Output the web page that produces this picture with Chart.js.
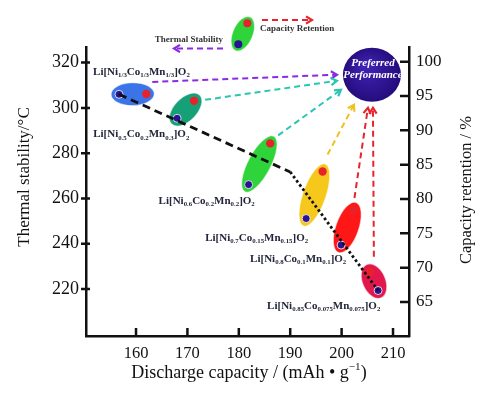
<!DOCTYPE html>
<html lang="en">
<head>
  <meta charset="UTF-8" />
  <title>Thermal stability vs capacity retention</title>
  <script src="https://cdn.jsdelivr.net/npm/chart.js"></script>
  <style>
    html, body { margin: 0; padding: 0; background: #fff; }
  </style>
</head>
<body>
  <canvas id="chart" width="490" height="399"></canvas>

  <script>
    // materials (formula with _{sub})
    const materials = [
      'Li[Ni_{1/3}Co_{1/3}Mn_{1/3}]O_{2}',
      'Li[Ni_{0.5}Co_{0.2}Mn_{0.3}]O_{2}',
      'Li[Ni_{0.6}Co_{0.2}Mn_{0.2}]O_{2}',
      'Li[Ni_{0.7}Co_{0.15}Mn_{0.15}]O_{2}',
      'Li[Ni_{0.8}Co_{0.1}Mn_{0.1}]O_{2}',
      'Li[Ni_{0.85}Co_{0.075}Mn_{0.075}]O_{2}'
    ];
    // discharge capacity where each dot sits (mAh/g)
    const capacityThermal = [156.7, 168.0, 181.9, 193.1, 199.9, 207.1];
    const capacityRetention = [162.0, 171.3, 186.1, 196.3, 202.3, 205.5];
    // thermal stability (°C) and capacity retention (%)
    const thermalStability = [306.0, 295.4, 266.1, 251.1, 239.4, 219.3];
    const retention = [95.3, 94.3, 88.1, 84.0, 78.4, 69.4];
    // trend line through thermal stability
    const trendX = [156.7, 190.0, 207.1];
    const trendY = [306.0, 271.7, 219.3];
    // axis ticks
    const xTicks = [160, 170, 180, 190, 200, 210];
    const thermalTicks = [220, 240, 260, 280, 300, 320];
    const retentionTicks = [65, 70, 75, 80, 85, 90, 95, 100];
    // "preferred performance" target (capacity, retention)
    const preferred = { x: 205.9, y: 98.1 };

    const SERIF = "'Liberation Serif', 'Times New Roman', serif";
    const ellipseColors = ['#3b74e8', '#16a078', '#2fd33a', '#f7c81c', '#ff1616', '#e2174c'];
    const arrowColors = ['#8a2be2', '#28c8b0', '#2cc4b4', '#f0c020', '#e8242c', '#e8242c'];
    // arrow start offset from red dot, arrow tip offset from target centre (px)
    const arrowLayout = [
      [6, -12, -35, 0], [11, -1, -35, 6], [8, -8, -31, 15],
      [5, -17, -18, 30], [1, -12, -4, 33], [4, -15, 1, 33]
    ];
    // label baseline offset from blue dot (px)
    const labelLayout = [[-26, -19.5], [-84, 19], [-90, 19], [-101, 22], [-91, 17], [-111, 18]];

    function richText(ctx, str, x, y, size, weight, measureOnly) {
      const parts = str.split(/([_^]\{[^}]*\})/).filter(Boolean);
      let w = 0;
      for (const p of parts) {
        let t = p, s = size, dy = 0;
        if (p[0] === '_' || p[0] === '^') {
          t = p.slice(2, -1);
          s = size * 0.62;
          dy = p[0] === '_' ? size * 0.22 : -size * 0.42;
        }
        ctx.font = `${weight} ${s}px ${SERIF}`;
        if (!measureOnly) ctx.fillText(t, x + w, y + dy);
        w += ctx.measureText(t).width;
      }
      return w;
    }

    function dashedArrow(ctx, x1, y1, x2, y2, color) {
      const a = Math.atan2(y2 - y1, x2 - x1);
      ctx.save();
      ctx.strokeStyle = color;
      ctx.lineWidth = 2;
      ctx.setLineDash([6, 4]);
      ctx.beginPath();
      ctx.moveTo(x1, y1);
      ctx.lineTo(x2 - 2 * Math.cos(a), y2 - 2 * Math.sin(a));
      ctx.stroke();
      ctx.setLineDash([]);
      ctx.lineWidth = 2.2;
      ctx.beginPath();
      ctx.moveTo(x2 - 7 * Math.cos(a - 0.55), y2 - 7 * Math.sin(a - 0.55));
      ctx.lineTo(x2, y2);
      ctx.lineTo(x2 - 7 * Math.cos(a + 0.55), y2 - 7 * Math.sin(a + 0.55));
      ctx.stroke();
      ctx.restore();
    }

    function pill(ctx, b, r, color, pad, ry) {
      const cx = (b[0] + r[0]) / 2, cy = (b[1] + r[1]) / 2;
      const ang = Math.atan2(r[1] - b[1], r[0] - b[0]);
      const rx = Math.hypot(r[0] - b[0], r[1] - b[1]) / 2 + pad;
      ctx.save();
      ctx.beginPath();
      ctx.ellipse(cx, cy, rx, ry, ang, 0, Math.PI * 2);
      ctx.fillStyle = color;
      ctx.fill();
      ctx.strokeStyle = 'rgba(255,255,255,0.55)';
      ctx.lineWidth = 1.2;
      ctx.stroke();
      ctx.restore();
    }

    function dot(ctx, x, y, color) {
      ctx.beginPath();
      ctx.arc(x, y, 4, 0, Math.PI * 2);
      ctx.fillStyle = color;
      ctx.fill();
    }

    const decor = {
      id: 'decor',
      beforeDatasetsDraw(chart) {
        const { ctx, scales } = chart;
        materials.forEach((m, i) => {
          const b = [scales.x.getPixelForValue(capacityThermal[i]), scales.y.getPixelForValue(thermalStability[i])];
          const r = [scales.x.getPixelForValue(capacityRetention[i]), scales.y2.getPixelForValue(retention[i])];
          pill(ctx, b, r, ellipseColors[i], 8, 11.5);
        });
      },
      afterDatasetsDraw(chart) {
        const { ctx, scales } = chart;
        const tx = scales.x.getPixelForValue(preferred.x);
        const ty = scales.y2.getPixelForValue(preferred.y);

        // arrows to preferred performance
        materials.forEach((m, i) => {
          const rx = scales.x.getPixelForValue(capacityRetention[i]);
          const ry = scales.y2.getPixelForValue(retention[i]);
          const L = arrowLayout[i];
          dashedArrow(ctx, rx + L[0], ry + L[1], tx + L[2], ty + L[3], arrowColors[i]);
        });

        // target circle
        ctx.save();
        ctx.beginPath();
        ctx.ellipse(tx, ty, 29, 27, 0, 0, Math.PI * 2);
        const g = ctx.createRadialGradient(tx - 6, ty - 8, 4, tx, ty, 30);
        g.addColorStop(0, '#3d22b0');
        g.addColorStop(1, '#230a78');
        ctx.fillStyle = g;
        ctx.fill();
        ctx.clip();
        ctx.fillStyle = '#fff';
        ctx.textAlign = 'center';
        ctx.textBaseline = 'middle';
        ctx.font = `italic bold 11px ${SERIF}`;
        ctx.fillText('Preferred', tx + 1, ty - 12);
        ctx.fillText('Performance', tx + 1, ty);
        ctx.restore();

        // material labels
        ctx.save();
        ctx.fillStyle = '#23263a';
        ctx.textBaseline = 'alphabetic';
        materials.forEach((m, i) => {
          const bx = scales.x.getPixelForValue(capacityThermal[i]);
          const by = scales.y.getPixelForValue(thermalStability[i]);
          richText(ctx, m, bx + labelLayout[i][0], by + labelLayout[i][1], 11, 'bold');
        });
        ctx.restore();
      },
      afterDraw(chart) {
        const { ctx, scales, chartArea } = chart;
        ctx.save();
        // tick marks
        ctx.strokeStyle = '#111';
        ctx.lineWidth = 2.5;
        ctx.beginPath();
        thermalTicks.forEach(v => {
          const y = scales.y.getPixelForValue(v);
          ctx.moveTo(chartArea.left - 5, y); ctx.lineTo(chartArea.left + 4, y);
        });
        retentionTicks.forEach(v => {
          const y = scales.y2.getPixelForValue(v);
          ctx.moveTo(chartArea.right - 9, y); ctx.lineTo(chartArea.right, y);
        });
        xTicks.forEach(v => {
          const x = scales.x.getPixelForValue(v);
          ctx.moveTo(x, chartArea.bottom - 8); ctx.lineTo(x, chartArea.bottom);
        });
        ctx.stroke();

        // axis titles
        ctx.fillStyle = '#111';
        ctx.textAlign = 'center';
        ctx.textBaseline = 'middle';
        ctx.save();
        ctx.translate(25, 177);
        ctx.rotate(-Math.PI / 2);
        ctx.font = `17px ${SERIF}`;
        ctx.fillText('Thermal stability/°C', 0, 0);
        ctx.restore();
        ctx.save();
        ctx.translate(467, 190);
        ctx.rotate(-Math.PI / 2);
        ctx.font = `16.5px ${SERIF}`;
        ctx.fillText('Capacity retention / %', 0, 0);
        ctx.restore();
        ctx.textAlign = 'left';
        ctx.textBaseline = 'alphabetic';
        const xt = 'Discharge capacity / (mAh \u2022 g^{\u22121})';
        const w = richText(ctx, xt, 0, 0, 18, 'normal', true);
        richText(ctx, xt, 249 - w / 2, 378, 18, 'normal');

        // key at the top
        const kb = [238.3, 44.3], kr = [247.3, 23.3];
        pill(ctx, kb, kr, '#2fd33a', 7, 10);
        dot(ctx, kr[0], kr[1], '#e8222a');
        dot(ctx, kb[0], kb[1], '#2a1390');
        dashedArrow(ctx, 262, 20, 312, 20, '#e8242c');
        dashedArrow(ctx, 223, 48.5, 174, 48.5, '#8a2be2');
        ctx.fillStyle = '#333';
        ctx.font = `bold 9px ${SERIF}`;
        ctx.textBaseline = 'middle';
        ctx.fillText('Capacity Retention', 260, 28.5);
        ctx.textAlign = 'right';
        ctx.fillText('Thermal Stability', 223, 40);
        ctx.restore();
      }
    };

    const tickFont = size => ({ family: SERIF, size: size });

    new Chart(document.getElementById('chart'), {
      type: 'scatter',
      data: {
        datasets: [
          {
            type: 'line',
            label: 'Trend',
            data: trendX.map((x, i) => ({ x, y: trendY[i] })),
            yAxisID: 'y',
            borderColor: '#111',
            borderWidth: 2.8,
            pointRadius: 0,
            fill: false,
            segment: {
              borderDash: ctx => ctx.p0DataIndex === 0 ? [8, 5] : [2.6, 2.6]
            }
          },
          {
            label: 'Thermal stability',
            data: capacityThermal.map((x, i) => ({ x, y: thermalStability[i] })),
            yAxisID: 'y',
            pointRadius: 4,
            pointBackgroundColor: '#2a1390',
            pointBorderColor: 'rgba(255,255,255,0.8)',
            pointBorderWidth: 1
          },
          {
            label: 'Capacity retention',
            data: capacityRetention.map((x, i) => ({ x, y: retention[i] })),
            yAxisID: 'y2',
            pointRadius: 4.2,
            pointBackgroundColor: '#e8222a',
            pointBorderWidth: 0
          }
        ]
      },
      options: {
        responsive: false,
        animation: false,
        layout: { padding: { top: 47, left: 0, right: 0, bottom: 0 } },
        plugins: { legend: { display: false }, tooltip: { enabled: false } },
        scales: {
          x: {
            type: 'linear',
            min: 150.27,
            max: 213.11,
            afterBuildTicks: s => { s.ticks = xTicks.map(v => ({ value: v })); },
            afterFit: s => { s.height = 63; },
            grid: { display: false, drawTicks: false },
            border: { display: true, color: '#111', width: 2.5 },
            ticks: { color: '#111', font: tickFont(16.5), padding: 8 }
          },
          y: {
            position: 'left',
            min: 199.2,
            max: 326.9,
            afterBuildTicks: s => { s.ticks = thermalTicks.map(v => ({ value: v })); },
            afterFit: s => { s.width = 86; },
            grid: { display: false, drawTicks: false },
            border: { display: true, color: '#111', width: 2.5 },
            ticks: { color: '#111', font: tickFont(18), padding: 7 }
          },
          y2: {
            position: 'right',
            min: 60.05,
            max: 102.14,
            afterBuildTicks: s => { s.ticks = retentionTicks.map(v => ({ value: v })); },
            afterFit: s => { s.width = 81; },
            grid: { display: false, drawTicks: false },
            border: { display: true, color: '#111', width: 2.5 },
            ticks: { color: '#111', font: tickFont(17), padding: 7 }
          }
        }
      },
      plugins: [decor]
    });
  </script>
</body>
</html>
